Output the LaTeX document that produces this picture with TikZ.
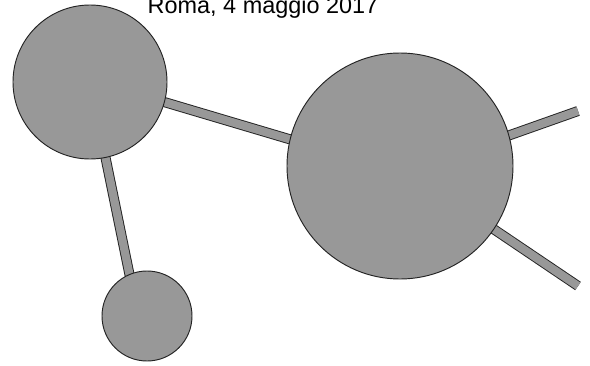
\documentclass[tikz,border=0pt]{standalone}
\usepackage{fontspec}
\setmainfont{Liberation Sans}
\usetikzlibrary{calc, backgrounds}
\definecolor{atomgray}{RGB}{152, 152, 152}
\definecolor{atomedge}{RGB}{35, 35, 35}

\begin{document}
\begin{tikzpicture}[x=0.03cm, y=-0.03cm,
        atom/.style={circle, draw=atomedge, fill=atomgray, line width=0.8pt, inner sep=0pt},
        bond/.style={line width=0.8pt, draw=atomedge, double=atomgray, double distance=7pt}
    ]
        \useasboundingbox (0,0) rectangle (590,365);

        % Data
        \node[font=\fontsize{20}{24}\selectfont, anchor=base] (date) at (263,13) {Roma, 4 maggio 2017};

        % Atomi
        \node[atom, minimum size=4.62cm] (A) at (90,82) {};
        \node[atom, minimum size=6.78cm] (B) at (400,166) {};
        \node[atom, minimum size=2.7cm] (C) at (147,316) {};
        \coordinate (ne) at (578,111);
        \coordinate (se) at (578,286);

        % Legami
        \begin{scope}[on background layer]
            \draw[bond] ($(A.center)+(0,-2)$) -- ($(B.center)+(0,6)$);
            \draw[bond] (A.center) -- ($(C.center)+(-9,0)$);
            \draw[bond] ($(B.center)+(0,8)$) -- (ne);
            \draw[bond] (B.center) -- (se);
        \end{scope}
    \end{tikzpicture}
\end{document}
